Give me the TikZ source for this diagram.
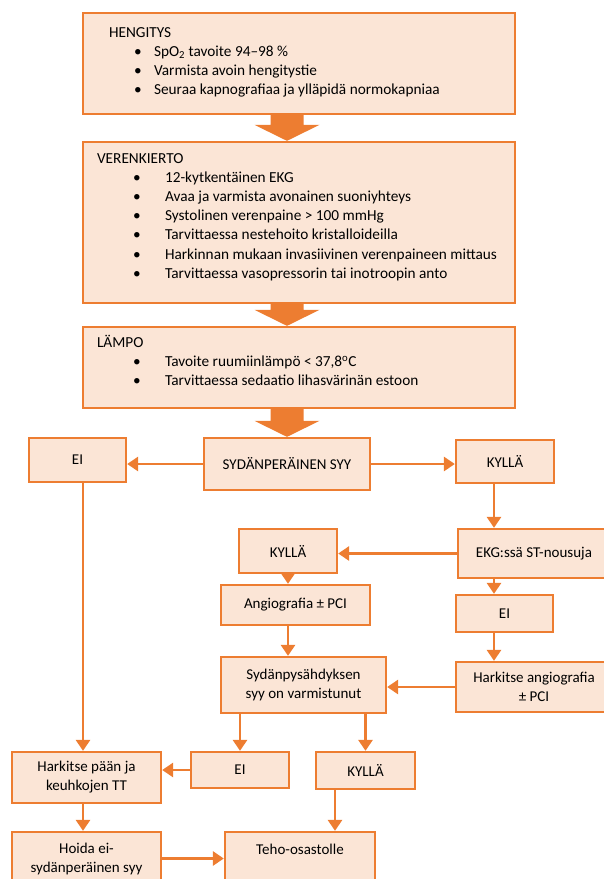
\documentclass[tikz,border=0pt]{standalone}
\usepackage{fontspec}
\setmainfont{Carlito}
\usetikzlibrary{arrows.meta,calc}

\definecolor{boxfill}{HTML}{FBE5D6}
\definecolor{boxline}{HTML}{ED7D31}

\newcommand{\bitem}[3]{\hspace*{#1}\makebox[#2][l]{\textbullet}#3}

\begin{document}
\begin{tikzpicture}[x=1pt,y=-1pt,
    box/.style={draw=boxline,fill=boxfill,line width=2.3pt,inner sep=0pt,align=center,font=\fontsize{15}{19}\selectfont},
    listtext/.style={inner sep=0pt,align=left,font=\fontsize{15.3}{19.2}\selectfont},
    line/.style={draw=boxline,line width=2.8pt,-{Triangle[length=11pt,width=14pt]}}]
    \useasboundingbox (0,0) rectangle (603,879);

    \coordinate (mid) at (287,0);
    \coordinate (colL) at (83,0);
    \coordinate (colR) at (494,0);
    \coordinate (colT) at (335,0);

    % top boxes
    \node[box,minimum width=432pt,minimum height=101pt] (heng) at (299,63.5) {};
    \node[box,minimum width=432pt,minimum height=161pt] (veren) at (299,222.5) {};
    \node[box,minimum width=432pt,minimum height=81pt] (lampo) at (299,367.5) {};

    \node[listtext,anchor=north west] (hengList) at ([xshift=27pt,yshift=-13pt]heng.north west)
        {\rule{0pt}{12pt}HENGITYS\\
         \bitem{25pt}{20pt}{SpO\textsubscript{2} tavoite 94–98 \%}\\
         \bitem{25pt}{20pt}{Varmista avoin hengitystie}\\
         \bitem{25pt}{20pt}{Seuraa kapnografiaa ja ylläpidä normokapniaa}};
    \node[listtext,anchor=north west] (verenList) at ([xshift=15pt,yshift=-10pt]veren.north west)
        {\rule{0pt}{12pt}VERENKIERTO\\
         \bitem{36pt}{32pt}{12-kytkentäinen EKG}\\
         \bitem{36pt}{32pt}{Avaa ja varmista avonainen suoniyhteys}\\
         \bitem{36pt}{32pt}{Systolinen verenpaine > 100 mmHg}\\
         \bitem{36pt}{32pt}{Tarvittaessa nestehoito kristalloideilla}\\
         \bitem{36pt}{32pt}{Harkinnan mukaan invasiivinen verenpaineen mittaus}\\
         \bitem{36pt}{32pt}{Tarvittaessa vasopressorin tai inotroopin anto}};
    \node[listtext,anchor=north west] (lampoList) at ([xshift=15pt,yshift=-9pt]lampo.north west)
        {\rule{0pt}{12pt}LÄMPO\\
         \bitem{36pt}{32pt}{Tavoite ruumiinlämpö < 37,8\textsuperscript{o}C}\\
         \bitem{36pt}{32pt}{Tarvittaessa sedaatio lihasvärinän estoon}};

    % decision boxes
    \node[box,minimum width=166pt,minimum height=52pt] (syy) at (287,464) {SYDÄNPERÄINEN SYY};
    \node[box,minimum width=97pt,minimum height=44pt] (ei1) at (77.5,460) {EI};
    \node[box,minimum width=98pt,minimum height=43pt] (kylla1) at (505,461.5) {KYLLÄ};
    \node[box,minimum width=152pt,minimum height=49pt] (ekg) at (534,553.5) {EKG:ssä ST-nousuja};
    \node[box,minimum width=98pt,minimum height=44pt] (kylla2) at (288,551) {KYLLÄ};
    \node[box,minimum width=149pt,minimum height=40pt] (angio) at (295.5,605) {Angiografia ± PCI};
    \node[box,minimum width=97pt,minimum height=37pt] (ei2) at (504.5,613.5) {EI};
    \node[box,minimum width=156pt,minimum height=50pt] (harkA) at (534,687) {Harkitse angiografia\\± PCI};
    \node[box,minimum width=165pt,minimum height=56pt] (syd) at (303.5,685) {Sydänpysähdyksen\\syy on varmistunut};
    \node[box,minimum width=149pt,minimum height=51pt] (harkP) at (86.5,777.5) {Harkitse pään ja\\keuhkojen TT};
    \node[box,minimum width=98pt,minimum height=36pt] (ei3) at (240,770) {EI};
    \node[box,minimum width=99pt,minimum height=37pt] (kylla3) at (365.5,770.5) {KYLLÄ};
    \node[box,minimum width=149pt,minimum height=53pt] (hoida) at (86.5,858.5) {Hoida ei-\\sydänperäinen syy};
    \node[box,minimum width=150pt,minimum height=53pt] (teho) at (300,858.5) {Teho-osastolle\\\mbox{}};

    % wide arrows
    \foreach \a/\b in {heng/veren,veren/lampo,lampo/syy}
        \fill[boxline] ($(\a.south -| mid)+(-16.5,0)$) -- ++(33,0)
            -- ($(\b.north -| mid)+(16.5,-16)$) -- ++(16,0) -- (\b.north -| mid)
            -- ($(\b.north -| mid)+(-32.5,-16)$) -- ++(16,0) -- cycle;

    % connectors
    \draw[line] (syy.west) -- (syy.west -| ei1.east);
    \draw[line] (syy.east) -- (syy.east -| kylla1.west);
    \draw[line] (kylla1.south -| colR) -- (ekg.north -| colR);
    \draw[line] (ekg.west) -- (ekg.west -| kylla2.east);
    \draw[line] (kylla2.south) -- (angio.north -| kylla2.south);
    \draw[line] (angio.south -| kylla2.south) -- (syd.north -| kylla2.south);
    \draw[line] (ekg.south -| colR) -- (ei2.north -| colR);
    \draw[line] (ei2.south -| colR) -- (harkA.north -| colR);
    \draw[line] (harkA.west) -- (harkA.west -| syd.east);
    \draw[line] (syd.south -| ei3.north) -- (ei3.north);
    \draw[line] (syd.south -| kylla3.north) -- (kylla3.north);
    \draw[line] (ei1.south -| colL) -- (harkP.north -| colL);
    \draw[line] (ei3.west) -- (ei3.west -| harkP.east);
    \draw[line] (harkP.south -| colL) -- (hoida.north -| colL);
    \draw[line] (kylla3.south -| colT) -- (teho.north -| colT);
    \draw[line] (hoida.east) -- (hoida.east -| teho.west);
\end{tikzpicture}
\end{document}
